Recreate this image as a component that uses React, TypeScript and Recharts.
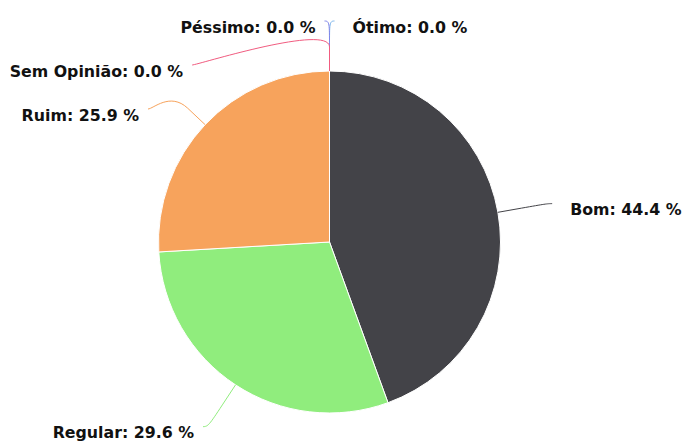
import { Cell, Pie, PieChart } from "recharts";

const categories = ["Ótimo", "Bom", "Regular", "Ruim", "Péssimo", "Sem Opinião"];
const counts = [0, 12, 8, 7, 0, 0];
const colors = ["#7cb5ec", "#434348", "#90ed7d", "#f7a35c", "#8085e9", "#f15c80"];

const data = categories.map((name, i) => ({ name, value: counts[i] }));

const CX = 329.5;
const CY = 242;
const RADIUS = 171;
const LABEL_DIST = 50;
const BREAK_DIST = 24;
const PAD = 5;
const SPACING = 44;
const RAD = Math.PI / 180;

// place labels the way highcharts does it: on a ring outside the pie, pushed apart per side
function layoutLabels() {
  const total = counts.reduce((a, b) => a + b, 0);
  const ring = RADIUS + LABEL_DIST;
  let acc = 0;
  const items = data.map((d, i) => {
    const frac = d.value / total;
    const mid = (acc + frac / 2) * 360;
    acc += frac;
    return { index: i, left: mid >= 180, y: CY - ring * Math.cos(mid * RAD) };
  });
  const out: Record<number, { left: boolean; y: number }> = {};
  for (const side of [true, false]) {
    const list = items.filter((it) => it.left === side).sort((a, b) => a.y - b.y);
    let prev = -Infinity;
    for (const it of list) {
      const y = Math.max(it.y, prev + SPACING, CY - ring);
      prev = y;
      out[it.index] = { left: side, y };
    }
  }
  return out;
}

const labelPos = layoutLabels();

function renderLabel(props: any) {
  const { cx, cy, midAngle, outerRadius, index, percent, name } = props;
  const pos = labelPos[index];
  const ring = outerRadius + LABEL_DIST;
  const dy = pos.y - cy;
  const dx = Math.sqrt(Math.max(0, ring * ring - dy * dy)) + PAD;
  const lx = pos.left ? cx - dx : cx + dx;
  const ly = pos.y;
  const cos = Math.cos(midAngle * RAD);
  const sin = Math.sin(midAngle * RAD);
  const tx = cx + outerRadius * cos;
  const ty = cy - outerRadius * sin;
  const bx = cx + (outerRadius + BREAK_DIST) * cos;
  const by = cy - (outerRadius + BREAK_DIST) * sin;
  const c1x = lx + (pos.left ? 5 : -5);
  const d = `M ${lx} ${ly} C ${c1x} ${ly} ${2 * bx - tx} ${2 * by - ty} ${bx} ${by} L ${tx} ${ty}`;
  const text = `${name}: ${(percent * 100).toFixed(1)} %`;
  return (
    <g key={`label-${index}`}>
      <path d={d} fill="none" stroke={colors[index]} strokeWidth={1} />
      <text
        x={pos.left ? lx - 9 : lx + 18}
        y={ly + 6}
        textAnchor={pos.left ? "end" : "start"}
        dominantBaseline="central"
        fontFamily="DejaVu Sans"
        fontSize={15.8}
        fontWeight="bold"
        fill="#111"
      >
        {text}
      </text>
    </g>
  );
}

export default function App() {
  return (
    <div style={{ position: "absolute", left: 0, top: 0, width: 683, height: 441, background: "#fff" }}>
      <PieChart width={683} height={441} margin={{ top: 0, right: 0, bottom: 0, left: 0 }}>
        <Pie
          data={data}
          dataKey="value"
          nameKey="name"
          cx={CX}
          cy={CY}
          outerRadius={RADIUS}
          startAngle={90}
          endAngle={-270}
          stroke="#ffffff"
          strokeWidth={1}
          label={renderLabel}
          labelLine={false}
          isAnimationActive={false}
        >
          {data.map((d, i) => (
            <Cell key={d.name} fill={colors[i]} />
          ))}
        </Pie>
      </PieChart>
    </div>
  );
}
